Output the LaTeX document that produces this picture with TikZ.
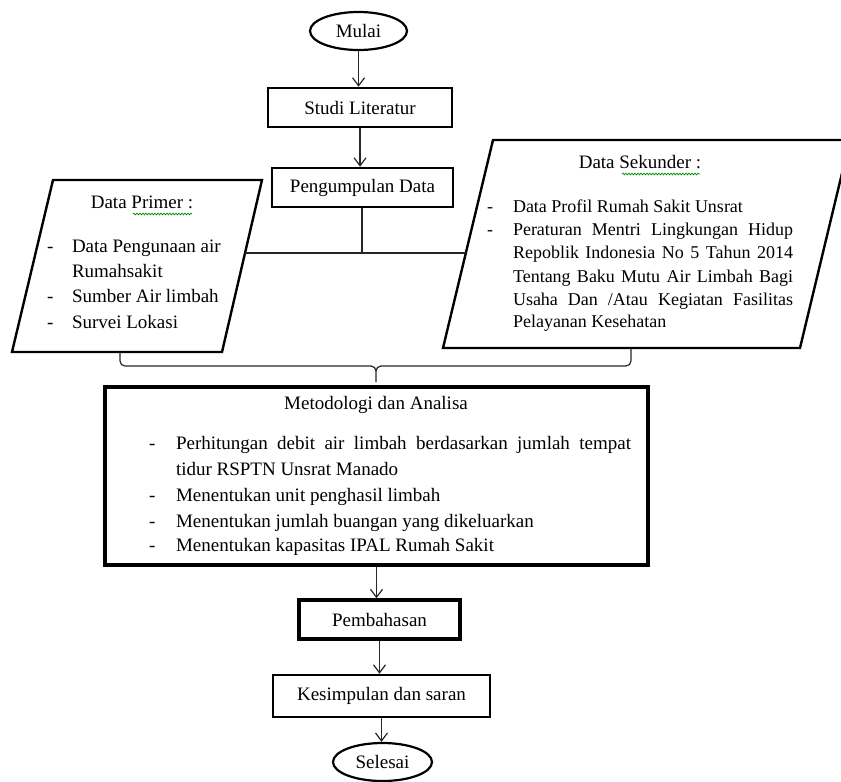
\documentclass[tikz,border=0pt]{standalone}
\usepackage{fontspec}
\setmainfont{Liberation Serif}
\usetikzlibrary{shapes.geometric,arrows.meta,decorations.pathmorphing}
\begin{document}
\begin{tikzpicture}[x=1pt,y=-1pt,
  txt/.style={font=\fontsize{19}{23}\selectfont, inner sep=0pt, outer sep=0pt},
  smalltxt/.style={font=\fontsize{18}{22}\selectfont, inner sep=0pt, outer sep=0pt},
  lbl/.style={txt, anchor=base west},
  slbl/.style={smalltxt, anchor=base west},
  ctr/.style={txt, anchor=base},
  box/.style={draw, rectangle, line width=2.5pt, inner sep=0pt, font=\fontsize{19}{23}\selectfont},
  heavybox/.style={box, line width=3.5pt},
  term/.style={draw, ellipse, line width=2.2pt, inner sep=0pt, font=\fontsize{19}{23}\selectfont},
  para/.style={draw, line width=2.4pt, line join=miter},
  conn/.style={line width=1.2pt, draw=black!85},
  arr/.style={conn, -{Straight Barb[length=8pt,width=12pt,line width=1.2pt]}},
  wavy/.style={draw=green!55!black, line width=0.7pt, decorate, decoration={snake,amplitude=0.9pt,segment length=3pt}}
]
\useasboundingbox (0,0) rectangle (841,782);

% terminals and boxes
\node[term, minimum width=97, minimum height=38] (mulai) at (358.5,31) {Mulai};
\node[box, minimum width=184, minimum height=39] (studi) at (360,107.5) {Studi Literatur};
\node[box, minimum width=181, minimum height=39] (kumpul) at (362.5,187.5) {Pengumpulan Data};
\node[heavybox, minimum width=543, minimum height=178] (metod) at (376.5,476) {};
\node[heavybox, minimum width=161, minimum height=39] (bahas) at (379.5,619.5) {Pembahasan};
\node[box, minimum width=217, minimum height=42] (simpul) at (381.5,696) {Kesimpulan dan saran};
\node[term, minimum width=99, minimum height=38] (selesai) at (382.5,762) {Selesai};

% parallelograms
\draw[para] (53,180) -- (262,180) -- (222,352) -- (12,352) -- cycle;
\draw[para] (493,140) -- (850,140) -- (800,348) -- (443,348) -- cycle;

% Data Primer text
\node[ctr] (ptitle) at (142,208) {Data Primer :};
\draw[wavy] (133,214) -- (192,214);
\node[lbl] (pd1) at (47,252) {-};
\node[lbl] (pl1) at (72,252) {Data Pengunaan air};
\node[lbl] (pl2) at (72,277) {Rumahsakit};
\node[lbl] (pd3) at (47,302) {-};
\node[lbl] (pl3) at (72,302) {Sumber Air limbah};
\node[lbl] (pd4) at (47,328) {-};
\node[lbl] (pl4) at (72,328) {Survei Lokasi};

% Data Sekunder text
\node[ctr] (stitle) at (640,168) {Data Sekunder :};
\draw[wavy] (622,174) -- (700,174);
\node[slbl] (sd1) at (487,212) {-};
\node[slbl] (sl1) at (513,212) {Data Profil Rumah Sakit Unsrat};
\node[slbl] (sd2) at (487,235) {-};
\node[slbl] (sl2) at (513,235) {\makebox[280pt][s]{Peraturan Mentri Lingkungan Hidup}};
\node[slbl] (sl3) at (513,258) {\makebox[280pt][s]{Repoblik Indonesia No 5 Tahun 2014}};
\node[slbl] (sl4) at (513,282) {\makebox[280pt][s]{Tentang Baku Mutu Air Limbah Bagi}};
\node[slbl] (sl5) at (513,305) {\makebox[280pt][s]{Usaha Dan /Atau Kegiatan Fasilitas}};
\node[slbl] (sl6) at (513,327) {Pelayanan Kesehatan};

% Metodologi text
\node[ctr] (mtitle) at (376,409) {Metodologi dan Analisa};
\node[lbl] (md1) at (149,449) {-};
\node[lbl] (ml1) at (176,449) {\makebox[455pt][s]{Perhitungan debit air limbah berdasarkan jumlah tempat}};
\node[lbl] (ml2) at (176,475) {tidur RSPTN Unsrat Manado};
\node[lbl] (md3) at (149,501) {-};
\node[lbl] (ml3) at (176,501) {Menentukan unit penghasil limbah};
\node[lbl] (md4) at (149,527) {-};
\node[lbl] (ml4) at (176,527) {Menentukan jumlah buangan yang dikeluarkan};
\node[lbl] (md5) at (149,551) {-};
\node[lbl] (ml5) at (176,551) {Menentukan kapasitas IPAL Rumah Sakit};

% connectors
\draw[arr] (mulai.south) -- (mulai.south |- studi.north);
\draw[arr] (studi.south) -- (studi.south |- kumpul.north);

\coordinate (prR) at (245,253);
\coordinate (seL) at (466,253);
\coordinate (junc) at (362,253);
\draw[conn] (kumpul.south -| junc) -- (junc);
\draw[conn] (prR) -- (seL);

\coordinate (prB) at (120,352);
\coordinate (seB) at (631,349);
\coordinate (tip) at (376,382);
\draw[conn] (prB) -- (120,361) to[out=-90,in=180] (125,366) -- (371,366) to[out=0,in=90] (376,371) -- (tip);
\draw[conn] (seB) -- (631,361) to[out=-90,in=0] (626,366) -- (381,366) to[out=180,in=90] (376,371);

\draw[arr] (metod.south) -- (metod.south |- bahas.north);
\draw[arr] (bahas.south) -- (bahas.south |- simpul.north);
\draw[arr] (simpul.south) -- (simpul.south |- selesai.north);
\end{tikzpicture}
\end{document}
